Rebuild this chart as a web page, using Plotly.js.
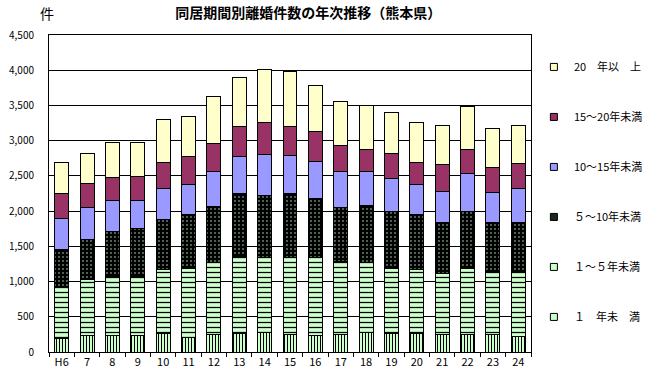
<!DOCTYPE html>
<html><head><meta charset="utf-8">
<script src="https://cdn.plot.ly/plotly-3.0.1.min.js"></script>
<style>html,body{margin:0;padding:0;background:#fff}#c{width:649px;height:381px}</style>
</head><body><div id="c"></div>
<script>
const categories = ["H6","7","8","9","10","11","12","13","14","15","16","17","18","19","20","21","22","23","24"];
const lt1   = [197,234,230,230,262,211,248,262,272,248,234,253,272,262,262,248,248,248,216];
const y1to5 = [717,792,848,848,909,975,1017,1092,1068,1092,1106,1031,993,928,909,872,942,891,909];
const y5to10= [548,577,637,670,713,759,806,895,886,909,844,773,811,806,778,722,806,693,707];
const y10to15=[431,445,431,403,436,437,495,530,581,544,524,509,490,471,427,435,532,431,483];
const y15to20=[356,339,335,344,374,397,397,426,454,402,426,369,312,354,318,379,350,360,365];
const y20up = [445,434,497,478,610,567,667,695,752,794,652,628,615,582,568,563,610,554,539];
const seriesNames = ["１　年未　満","１～５年未満","５～10年未満","10～15年未満","15～20年未満","20　年以　上"];

const line = {color:"#000", width:1};
const specs = [
  {y:lt1,    color:"#CCFFCC", pattern:{shape:"|", bgcolor:"#CCFFCC", fgcolor:"#000", size:3, solidity:0.35}},
  {y:y1to5,  color:"#CCFFCC", pattern:{shape:"-", bgcolor:"#CCFFCC", fgcolor:"#000", size:5, solidity:0.25}},
  {y:y5to10, color:"#1a2a1a", pattern:{shape:".", bgcolor:"#000", fgcolor:"#CCFFCC", size:4, solidity:0.1}},
  {y:y10to15,color:"#9999FF"},
  {y:y15to20,color:"#993366"},
  {y:y20up,  color:"#FFFFCC"}
];
const traces = specs.map((s,i)=>{
  const m = {line:line};
  if (s.pattern){ m.color = s.pattern.bgcolor; m.pattern = Object.assign({fillmode:"replace"}, s.pattern); }
  else m.color = s.color;
  return {type:"bar", x:categories, y:s.y, name:seriesNames[i], marker:m, showlegend:false, hoverinfo:"skip"};
});
// legend-only entries with small square keys (top entry = last series)
const legendTraces = specs.map((s,i)=>({
  type:"scatter", mode:"markers", x:[null], y:[null], name:seriesNames[i], legendgroup:"g"+i,
  marker:{symbol:"square", size:7, color:s.color, line:{color:"#000", width:1}}, hoverinfo:"skip"
})).reverse();
const layout = {
  width:649, height:381,
  margin:{l:49, r:118, t:35, b:29, autoexpand:false},
  paper_bgcolor:"#fff", plot_bgcolor:"#fff",
  font:{family:"'Noto Sans CJK JP', sans-serif", color:"#000", size:11},
  barmode:"stack", bargap:0.45,
  showlegend:true,
  legend:{x:1.006, xanchor:"left", y:0.945, yanchor:"top", traceorder:"grouped", tracegroupgap:31,
          font:{size:11}, itemwidth:30, bgcolor:"rgba(0,0,0,0)"},
  title:{text:"<b>同居期間別離婚件数の年次推移（熊本県）</b>", x:0.475, xanchor:"center", xref:"container",
         y:0.965, yanchor:"middle", yref:"container", font:{size:14}},
  xaxis:{type:"category", showline:true, mirror:true, linecolor:"#000", linewidth:1, tickangle:0,
         ticks:"outside", tickson:"boundaries", ticklen:4, tickcolor:"#000", tickfont:{size:11}, showgrid:false},
  yaxis:{range:[0,4500], dtick:500, tickformat:",", showline:true, mirror:true, linecolor:"#000", linewidth:1,
         showgrid:true, gridcolor:"#000", gridwidth:1, ticks:"", ticklabelstandoff:12, tickfont:{size:10}, zeroline:false},
  annotations:[{text:"件", xref:"paper", yref:"paper", x:-0.005, y:1.03, xanchor:"center", yanchor:"bottom",
                showarrow:false, font:{size:14}}]
};
Plotly.newPlot("c", traces.concat(legendTraces), layout, {displayModeBar:false, staticPlot:true});
</script></body></html>
